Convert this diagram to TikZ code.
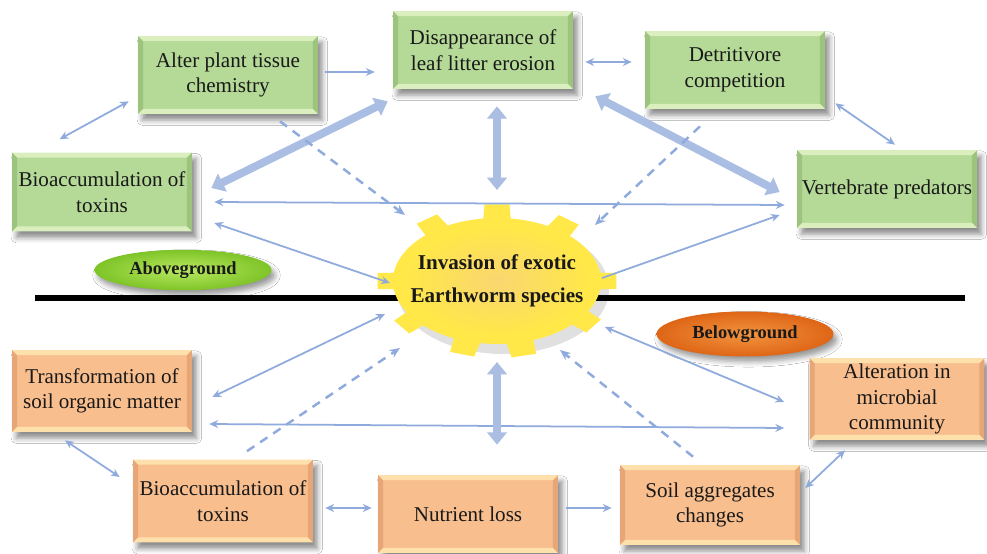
\documentclass[tikz,border=0pt]{standalone}
\usepackage{fontspec}
\setmainfont{Liberation Serif}
\usetikzlibrary{arrows.meta, calc, shapes.geometric, shadows.blur}

\definecolor{gbody}{RGB}{181,217,151}
\definecolor{glight}{RGB}{218,238,190}
\definecolor{gdark}{RGB}{156,196,124}
\definecolor{obody}{RGB}{248,190,142}
\definecolor{olight}{RGB}{253,224,172}
\definecolor{odark}{RGB}{230,166,118}
\definecolor{linkblue}{RGB}{143,170,220}
\definecolor{fatblue}{RGB}{170,190,228}
\definecolor{gearyellow}{RGB}{255,232,72}
\definecolor{gearcore}{RGB}{250,214,112}
\definecolor{tagup}{RGB}{126,196,40}
\definecolor{tagupcore}{RGB}{185,232,95}
\definecolor{tagdown}{RGB}{222,102,22}
\definecolor{tagdowncore}{RGB}{242,148,64}
\definecolor{inktext}{RGB}{25,25,25}

\begin{document}
\begin{tikzpicture}[x=0.02cm, y=-0.02cm,
  bevel/.style 2 args={path picture={
    \path (path picture bounding box.north west) coordinate (nw)
          (path picture bounding box.south east) coordinate (se);
    \fill[#2] (nw) -- ($(nw)+(5,5)$) -- ($(se -| nw)+(5,-5)$) -- (se -| nw) -- cycle;
    \fill[#2] (se) -- ($(se)+(-5,-5)$) -- ($(nw -| se)+(-5,5)$) -- (nw -| se) -- cycle;
    \fill[#1] (nw) -- (nw -| se) -- ($(nw -| se)+(-5,5)$) -- ($(nw)+(5,5)$) -- cycle;
    \fill[#1] (se) -- (se -| nw) -- ($(se -| nw)+(5,-5)$) -- ($(se)+(-5,-5)$) -- cycle;}},
  box/.style={rectangle, minimum width=3.6cm, minimum height=1.56cm, align=center,
    inner sep=2pt, text=inktext, font=\fontsize{12}{14.5}\selectfont,
    blur shadow={shadow xshift=2.5pt, shadow yshift=-3.5pt, shadow blur radius=3pt, shadow opacity=45}},
  greenbox/.style={box, fill=gbody, bevel={glight}{gdark}},
  orangebox/.style={box, fill=obody, bevel={olight}{odark}},
  tag/.style={ellipse, minimum width=3.54cm, minimum height=0.8cm, text=inktext,
    font=\bfseries\fontsize{10.5}{12}\selectfont, shading=radial,
    blur shadow={shadow xshift=2pt, shadow yshift=-3pt, shadow blur radius=3pt, shadow opacity=40}},
  twoway/.style={draw=linkblue, line width=1pt, {Stealth[length=5pt,width=4.5pt]}-{Stealth[length=5pt,width=4.5pt]}},
  oneway/.style={draw=linkblue, line width=1pt, -{Stealth[length=5pt,width=4.5pt]}},
  fatway/.style={draw=fatblue, line width=4.5pt, {Triangle[length=7pt,width=11pt]}-{Triangle[length=7pt,width=11pt]}},
  hintway/.style={draw=linkblue, line width=1.4pt, dash pattern=on 5pt off 4pt, -{Stealth[length=6pt,width=5pt]}}]
\useasboundingbox (0,0) rectangle (987,554);
\fill[white] (0,0) rectangle (987,554);

% ground line
\draw[line width=3.4pt] (35,298) -- (965,298);

% gear
\begin{scope}[shift={(497,281)}]
  \fill[black, opacity=0.12] (6,8) ellipse [x radius=106, y radius=65];
  \fill[gearyellow] (0,0) ellipse [x radius=104, y radius=63];
  \foreach \a in {0,36,77,107,143,180,234,270,307}
    \fill[gearyellow] (\a-8:100 and 60) -- (\a-6:120 and 77) -- (\a+6:120 and 77) -- (\a+8:100 and 60) -- cycle;
  \shade[inner color=gearcore, outer color=gearyellow] (0,0) ellipse [x radius=92, y radius=54];
\end{scope}

% aboveground boxes
\node[greenbox] (alter) at (228,75) {Alter plant tissue\\chemistry};
\node[greenbox] (disap) at (483,50) {Disappearance of\\leaf litter erosion};
\node[greenbox] (detri) at (735,70) {Detritivore\\competition};
\node[greenbox, minimum height=1.58cm] (bioA) at (102,192) {Bioaccumulation of\\toxins};
\node[greenbox] (verte) at (887,189) {Vertebrate predators};
\node[tag, inner color=tagupcore, outer color=tagup] (tagA) at (183,270) {Aboveground};

% centre
\node[ellipse, inner sep=0pt, minimum width=4.8cm, minimum height=3.16cm, align=center,
  text=inktext, font=\bfseries\fontsize{12}{19}\selectfont] (inv) at (497,281) {Invasion of exotic\\Earthworm species};

% belowground boxes
\node[tag, minimum height=0.9cm, inner color=tagdowncore, outer color=tagdown] (tagB) at (745,334) {Belowground};
\node[orangebox, minimum height=1.64cm] (trans) at (102,391) {Transformation of\\soil organic matter};
\node[orangebox, minimum width=3.5cm, minimum height=1.64cm] (micro) at (897,399) {Alteration in\\microbial\\community};
\node[orangebox, minimum height=1.66cm] (bioB) at (223,501) {Bioaccumulation of\\toxins};
\node[orangebox] (nutr) at (468,514) {Nutrient loss};
\node[orangebox, minimum height=1.6cm] (soil) at (710,505) {Soil aggregates\\changes};

% aboveground links
\draw[twoway] ($(alter.south west)+(-9,-13)$) -- ($(bioA.north west)+(48,-13)$);
\draw[oneway] ($(alter.east)+(7,-3)$) -- ($(disap.west)+(-18,22)$);
\draw[twoway] ($(disap.east)+(12,12)$) -- ($(detri.west)+(-13,-8)$);
\draw[twoway] ($(detri.south east)+(10,-6)$) -- ($(verte.north)+(8,-5)$);
\draw[twoway] ($(bioA.east)+(22,10)$) -- ($(verte.west)+(-12,16)$);
\draw[twoway] ($(bioA.east)+(22,31)$) -- ($(inv)+(-107,2)$);
\draw[oneway] ($(inv)+(105,-3)$) -- ($(verte.west)+(-17,26)$);
\draw[fatway] ($(bioA.east)+(19,-4)$) -- ($(disap.south west)+(-5,12)$);
\draw[fatway] ($(disap.south east)+(22,7)$) -- ($(verte.west)+(-17,3)$);
\draw[fatway] ($(disap.south)+(14,17)$) -- ($(inv)+(0,-91)$);
\draw[hintway] ($(alter.south)+(52,7)$) -- ($(inv)+(-92,-66)$);
\draw[hintway] ($(detri.south)+(-35,17)$) -- ($(inv)+(98,-56)$);

% belowground links
\draw[twoway] ($(trans.east)+(20,6)$) -- ($(inv)+(-112,33)$);
\draw[twoway] ($(trans.east)+(17,33)$) -- ($(micro.west)+(-25,29)$);
\draw[hintway] ($(bioB.north)+(24,-8)$) -- ($(inv)+(-97,67)$);
\draw[fatway] ($(inv)+(0,81)$) -- ($(nutr.north)+(29,-30)$);
\draw[hintway] ($(soil.north)+(-17,-8)$) -- ($(inv)+(63,69)$);
\draw[twoway] ($(inv)+(108,46)$) -- ($(micro.west)+(-25,3)$);
\draw[twoway] ($(trans.south)+(-37,8)$) -- ($(bioB.west)+(-13,-24)$);
\draw[twoway] ($(bioB.east)+(12,7)$) -- ($(nutr.west)+(-6,-6)$);
\draw[oneway] ($(nutr.east)+(8,-6)$) -- ($(soil.west)+(-8,3)$);
\draw[twoway] ($(soil.east)+(5,-17)$) -- ($(micro.south)+(-52,10)$);
\end{tikzpicture}
\end{document}
